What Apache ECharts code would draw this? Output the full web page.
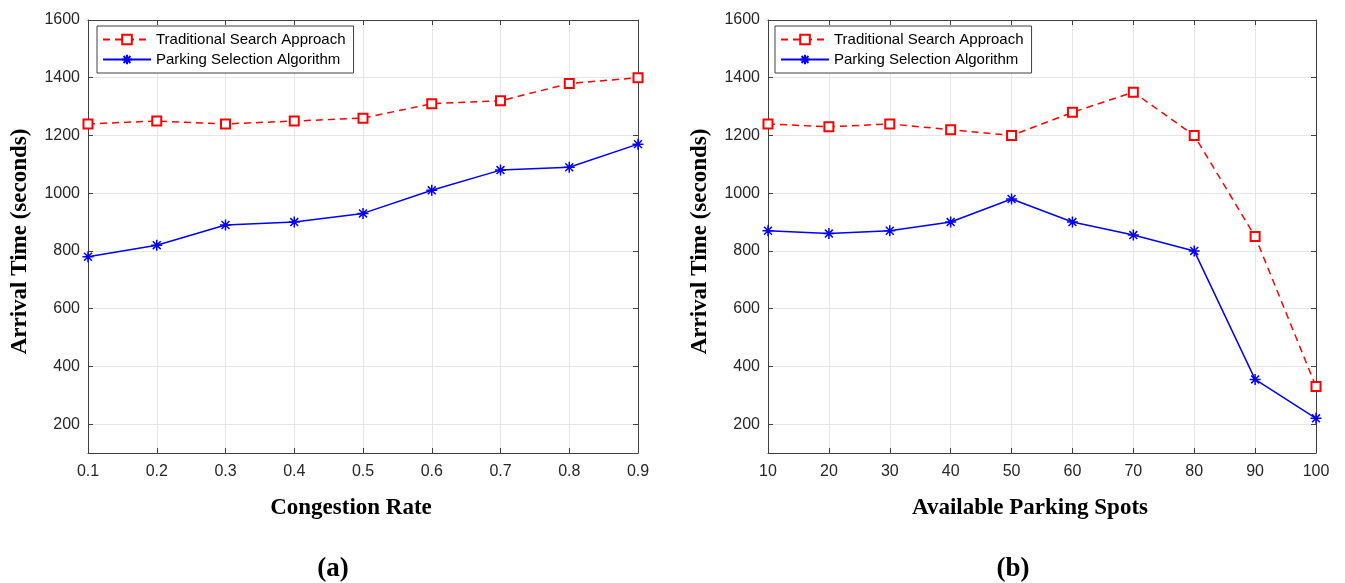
<!DOCTYPE html>
<html>
<head>
<meta charset="utf-8">
<script src="https://cdn.jsdelivr.net/npm/echarts@6/dist/echarts.min.js"></script>
<style>html,body{margin:0;padding:0;background:#fff;}#c{width:1345px;height:583px;}</style>
</head>
<body>
<div id="c"></div>
<script>
const congestion = ['0.1','0.2','0.3','0.4','0.5','0.6','0.7','0.8','0.9'];
const tradA = [1240,1250,1240,1250,1260,1310,1320,1380,1400];
const parkA = [780,820,890,900,930,1010,1080,1090,1170];
const spots = ['10','20','30','40','50','60','70','80','90','100'];
const tradB = [1240,1230,1240,1220,1200,1280,1350,1200,850,330];
const parkB = [870,860,870,900,980,900,855,800,355,220];
const yTicks = [200,400,600,800,1000,1200,1400,1600];
const nameT = 'Traditional Search Approach';
const nameP = 'Parking Selection Algorithm';

const axisCol = '#404040';
const gridCol = '#e6e6e6';
const asterisk = 'path://M0,-1L0,1M-1,0L1,0M-0.72,-0.72L0.72,0.72M-0.72,0.72L0.72,-0.72';

function xAx(gi, cats, top) {
  return {
    type:'category', gridIndex:gi, data:cats, boundaryGap:false, position: top?'top':'bottom',
    axisLine:{show:true, lineStyle:{color:axisCol, width:1}},
    axisTick:{show:true, inside:true, length:5, alignWithLabel:true, lineStyle:{color:axisCol}},
    axisLabel:{show:!top, color:'#262626', fontFamily:'Liberation Sans, Arial', fontSize:16, margin:11},
    splitLine:{show:!top, lineStyle:{color:gridCol, width:1}},
    name: top?'':(gi===0?'Congestion Rate':'Available Parking Spots'),
    nameLocation:'middle', nameGap:44,
    nameTextStyle:{fontFamily:'Liberation Serif, Times New Roman', fontWeight:'bold', fontSize:23, color:'#000', padding:[0,24,0,0]}
  };
}
function yAx(gi, right) {
  return {
    type:'value', gridIndex:gi, min:100, max:1600, position: right?'right':'left',
    axisLine:{show:true, lineStyle:{color:axisCol, width:1}},
    axisTick:{show:true, inside:true, length:5, customValues:yTicks, lineStyle:{color:axisCol}},
    axisLabel:{show:!right, customValues:yTicks, formatter:(v)=>String(v), color:'#262626', fontFamily:'Liberation Sans, Arial', fontSize:16, margin:8},
    splitLine:{show:!right, lineStyle:{color:gridCol, width:1}},
    name: right?'':'Arrival Time (seconds)',
    nameLocation:'middle', nameGap:56, nameRotate:90,
    nameTextStyle:{fontFamily:'Liberation Serif, Times New Roman', fontWeight:'bold', fontSize:23, color:'#000', padding:[0,10,0,0]}
  };
}
function trad(xi, yi, data) {
  return {name:nameT, type:'line', xAxisIndex:xi, yAxisIndex:yi, data:data,
    symbol:'emptyRect', symbolSize:9, showAllSymbol:true,
    lineStyle:{color:'#ff0000', width:1.5, type:[7,5]},
    itemStyle:{color:'#ff0000', borderColor:'#ff0000', borderWidth:1},
    emphasis:{disabled:true}, animation:false, z:3};
}
function park(xi, yi, data) {
  return {name:nameP, type:'line', xAxisIndex:xi, yAxisIndex:yi, data:data,
    symbol:asterisk, symbolSize:11, showAllSymbol:true,
    lineStyle:{color:'#0000ff', width:1.5},
    itemStyle:{color:'#0000ff', borderColor:'#0000ff', borderWidth:1.5},
    emphasis:{disabled:true}, animation:false, z:4};
}
function leg(left) {
  return {left:left, top:26, orient:'vertical', data:[nameT, nameP],
    backgroundColor:'#fff', borderColor:'#404040', borderWidth:1,
    padding:[6,8,6,5], itemWidth:48, itemHeight:12, itemGap:5,
    textStyle:{fontFamily:'Liberation Sans, Arial', fontSize:15, color:'#000'},
    selectedMode:false};
}
const chart = echarts.init(document.getElementById('c'), null, {renderer:'canvas'});
chart.setOption({
  animation:false,
  backgroundColor:'#fff',
  grid:[
    {left:88, right:1345-638, top:20, bottom:583-453, show:false},
    {left:768, right:1345-1316, top:20, bottom:583-453, show:false}
  ],
  xAxis:[xAx(0, congestion, false), xAx(0, congestion, true), xAx(1, spots, false), xAx(1, spots, true)],
  yAxis:[yAx(0,false), yAx(0,true), yAx(1,false), yAx(1,true)],
  legend:[leg(97), leg(775)],
  title:[
    {text:'{p|(}{b|a}{p|)}', left:328, top:551, textAlign:'center',
     textStyle:{rich:{p:{fontFamily:'Liberation Serif', fontSize:27, color:'#000'}, b:{fontFamily:'Liberation Serif', fontWeight:'bold', fontSize:27, color:'#000'}}}},
    {text:'{p|(}{b|b}{p|)}', left:1008, top:551, textAlign:'center',
     textStyle:{rich:{p:{fontFamily:'Liberation Serif', fontSize:27, color:'#000'}, b:{fontFamily:'Liberation Serif', fontWeight:'bold', fontSize:27, color:'#000'}}}}
  ],
  series:[trad(0,0,tradA), park(0,0,parkA), trad(2,2,tradB), park(2,2,parkB)]
});
</script>
</body>
</html>
